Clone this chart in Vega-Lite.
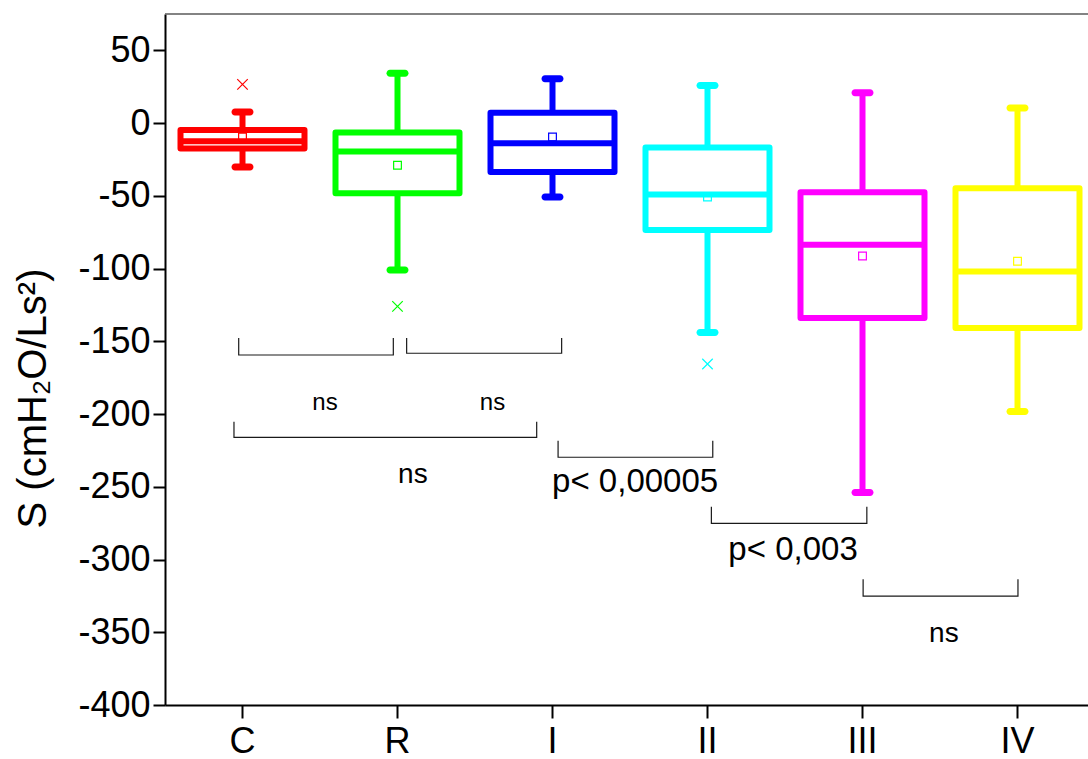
{
  "$schema": "https://vega.github.io/schema/vega-lite/v6.json",
  "width": 923,
  "height": 691,
  "autosize": {"type": "none"},
  "padding": {"left": 165, "top": 14, "right": 0, "bottom": 54},
  "background": "white",
  "config": {"view": {"stroke": null}, "font": "Liberation Sans"},
  "datasets": {
    "boxes": [
      {"group": "C", "min": -30.2, "q1": -17.4, "median": -12.4, "q3": -4.8, "max": 7.6, "mean": -9.6},
      {"group": "R", "min": -101, "q1": -48.3, "median": -19.6, "q3": -6.4, "max": 34.3, "mean": -29},
      {"group": "I", "min": -50.8, "q1": -33.6, "median": -13.9, "q3": 7.2, "max": 30.5, "mean": -9.6},
      {"group": "II", "min": -144, "q1": -73.4, "median": -49, "q3": -16.7, "max": 25.9, "mean": -50.8},
      {"group": "III", "min": -254, "q1": -133.9, "median": -83.6, "q3": -47.6, "max": 20.9, "mean": -91.3},
      {"group": "IV", "min": -198.3, "q1": -140.8, "median": -102, "q3": -44.8, "max": 10.3, "mean": -94.9}
    ],
    "outliers": [
      {"group": "C", "value": 26.6},
      {"group": "R", "value": -126},
      {"group": "II", "value": -165.6}
    ],
    "brackets": [
      {"id": 1, "k": 1, "bx": 0.9755, "by": -147.7},
      {"id": 1, "k": 2, "bx": 0.9755, "by": -159.4},
      {"id": 1, "k": 3, "bx": 1.973, "by": -159.4},
      {"id": 1, "k": 4, "bx": 1.973, "by": -147.7},
      {"id": 2, "k": 1, "bx": 2.059, "by": -147.7},
      {"id": 2, "k": 2, "bx": 2.059, "by": -158.2},
      {"id": 2, "k": 3, "bx": 3.059, "by": -158.2},
      {"id": 2, "k": 4, "bx": 3.059, "by": -147.7},
      {"id": 3, "k": 1, "bx": 0.945, "by": -205.3},
      {"id": 3, "k": 2, "bx": 0.945, "by": -216.0},
      {"id": 3, "k": 3, "bx": 2.898, "by": -216.0},
      {"id": 3, "k": 4, "bx": 2.898, "by": -205.3},
      {"id": 4, "k": 1, "bx": 3.036, "by": -218.3},
      {"id": 4, "k": 2, "bx": 3.036, "by": -229.7},
      {"id": 4, "k": 3, "bx": 4.034, "by": -229.7},
      {"id": 4, "k": 4, "bx": 4.034, "by": -218.3},
      {"id": 5, "k": 1, "bx": 4.025, "by": -263.7},
      {"id": 5, "k": 2, "bx": 4.025, "by": -275.1},
      {"id": 5, "k": 3, "bx": 5.028, "by": -275.1},
      {"id": 5, "k": 4, "bx": 5.028, "by": -263.7},
      {"id": 6, "k": 1, "bx": 5.004, "by": -313.6},
      {"id": 6, "k": 2, "bx": 5.004, "by": -325.1},
      {"id": 6, "k": 3, "bx": 6.003, "by": -325.1},
      {"id": 6, "k": 4, "bx": 6.003, "by": -313.6}
    ],
    "notes": [
      {"kind": "small", "bx": 1.532, "by": -197.3, "t": "ns"},
      {"kind": "small", "bx": 2.613, "by": -197.3, "t": "ns"},
      {"kind": "mid", "bx": 2.099, "by": -247.6, "t": "ns"},
      {"kind": "mid", "bx": 5.525, "by": -356.5, "t": "ns"},
      {"kind": "p", "bx": 3.533, "by": -253.4, "t": "p< 0,00005"},
      {"kind": "p", "bx": 4.552, "by": -300.3, "t": "p< 0,003"}
    ]
  },
  "resolve": {"scale": {"x": "independent"}},
  "layer": [
    {
      "encoding": {
        "x": {
          "field": "group", "type": "nominal",
          "sort": ["C", "R", "I", "II", "III", "IV"],
          "scale": {"domain": ["C", "R", "I", "II", "III", "IV"], "range": [0, 930], "paddingInner": 0, "paddingOuter": 0},
          "axis": {
            "title": null, "labelFontSize": 36, "labelColor": "black", "labelFont": "Liberation Sans",
            "tickSize": 13, "tickWidth": 2, "tickColor": "black",
            "domainColor": "black", "domainWidth": 2, "labelPadding": 6, "labelAngle": 0, "grid": false
          }
        },
        "color": {
          "field": "group", "type": "nominal",
          "scale": {"domain": ["C", "R", "I", "II", "III", "IV"], "range": ["#ff0000", "#00ff00", "#0000ff", "#00ffff", "#ff00ff", "#ffff00"]},
          "legend": null
        }
      },
      "layer": [
        {
          "data": {"name": "boxes"},
          "mark": {"type": "rule", "strokeWidth": 6},
          "encoding": {
            "y": {
              "field": "min", "type": "quantitative",
              "scale": {"domain": [-400, 75], "nice": false, "zero": false},
              "title": "S (cmH₂O/Ls²)",
              "axis": {
                "title": "S (cmH₂O/Ls²)",
                "values": [75, 50, 25, 0, -25, -50, -75, -100, -125, -150, -175, -200, -225, -250, -275, -300, -325, -350, -375, -400],
                "labelExpr": "datum.value % 50 === 0 ? '' + datum.value : ''",
                "labelFontSize": 36, "labelFont": "Liberation Sans", "labelColor": "black", "labelPadding": 3,
                "labelFlush": false, "labelOverlap": false,
                "tickSize": {"condition": {"test": "datum.value % 50 === 0", "value": 12}, "value": 7},
                "tickWidth": 2, "tickColor": "black",
                "domainColor": "black", "domainWidth": 2, "grid": false,
                "titleFontSize": 40, "titleFontWeight": "normal", "titleColor": "black", "titleFont": "Liberation Sans",
                "titleX": -132, "titleY": 384, "titleAngle": 270, "titleAlign": "center", "titleBaseline": "middle"
              }
            },
            "y2": {"field": "max"}
          }
        },
        {
          "data": {"name": "boxes"},
          "mark": {"type": "tick", "size": 22, "thickness": 7, "cornerRadius": 3.5, "opacity": 1},
          "encoding": {"y": {"field": "max", "type": "quantitative", "title": "S (cmH₂O/Ls²)"}}
        },
        {
          "data": {"name": "boxes"},
          "mark": {"type": "tick", "size": 22, "thickness": 7, "cornerRadius": 3.5, "opacity": 1},
          "encoding": {"y": {"field": "min", "type": "quantitative", "title": "S (cmH₂O/Ls²)"}}
        },
        {
          "data": {"name": "boxes"},
          "mark": {"type": "bar", "size": 124, "strokeWidth": 6, "strokeJoin": "round"},
          "encoding": {
            "y": {"field": "q1", "type": "quantitative", "title": "S (cmH₂O/Ls²)"},
            "y2": {"field": "q3"},
            "fill": {"value": "white"},
            "stroke": {
              "field": "group", "type": "nominal",
              "scale": {"domain": ["C", "R", "I", "II", "III", "IV"], "range": ["#ff0000", "#00ff00", "#0000ff", "#00ffff", "#ff00ff", "#ffff00"]},
              "legend": null
            }
          }
        },
        {
          "data": {"name": "boxes"},
          "mark": {"type": "tick", "size": 124, "thickness": 6, "opacity": 1},
          "encoding": {"y": {"field": "median", "type": "quantitative", "title": "S (cmH₂O/Ls²)"}}
        },
        {
          "data": {"name": "boxes"},
          "mark": {"type": "point", "shape": "square", "size": 60, "filled": false, "strokeWidth": 1.2, "opacity": 1},
          "encoding": {"y": {"field": "mean", "type": "quantitative", "title": "S (cmH₂O/Ls²)"}}
        },
        {
          "data": {"name": "outliers"},
          "mark": {"type": "point", "shape": "M-1,-1L1,1M-1,1L1,-1", "size": 110, "filled": false, "strokeWidth": 1.2, "opacity": 1},
          "encoding": {"y": {"field": "value", "type": "quantitative", "title": "S (cmH₂O/Ls²)"}}
        }
      ]
    },
    {
      "data": {"values": [{}]},
      "mark": {"type": "rule", "color": "#5a5a5a", "strokeWidth": 1.5},
      "encoding": {"y": {"datum": 75, "type": "quantitative", "title": "S (cmH₂O/Ls²)"}}
    },
    {
      "encoding": {
        "x": {"field": "bx", "type": "quantitative", "scale": {"domain": [0.5, 6.5], "range": [0, 930], "nice": false, "zero": false}, "axis": null}
      },
      "layer": [
        {
          "data": {"name": "brackets"},
          "mark": {"type": "line", "color": "#1a1a1a", "strokeWidth": 1.2},
          "encoding": {
            "y": {"field": "by", "type": "quantitative", "title": "S (cmH₂O/Ls²)"},
            "detail": {"field": "id", "type": "nominal"},
            "order": {"field": "k", "type": "quantitative"}
          }
        },
        {
          "data": {"name": "notes"},
          "transform": [{"filter": "datum.kind === 'small'"}],
          "mark": {"type": "text", "fontSize": 24, "font": "Liberation Sans", "color": "black", "baseline": "alphabetic", "align": "center"},
          "encoding": {"y": {"field": "by", "type": "quantitative", "title": "S (cmH₂O/Ls²)"}, "text": {"field": "t"}}
        },
        {
          "data": {"name": "notes"},
          "transform": [{"filter": "datum.kind === 'mid'"}],
          "mark": {"type": "text", "fontSize": 28, "font": "Liberation Sans", "color": "black", "baseline": "alphabetic", "align": "center"},
          "encoding": {"y": {"field": "by", "type": "quantitative", "title": "S (cmH₂O/Ls²)"}, "text": {"field": "t"}}
        },
        {
          "data": {"name": "notes"},
          "transform": [{"filter": "datum.kind === 'p'"}],
          "mark": {"type": "text", "fontSize": 33, "font": "Liberation Sans", "color": "black", "baseline": "alphabetic", "align": "center"},
          "encoding": {"y": {"field": "by", "type": "quantitative", "title": "S (cmH₂O/Ls²)"}, "text": {"field": "t"}}
        }
      ]
    }
  ]
}
